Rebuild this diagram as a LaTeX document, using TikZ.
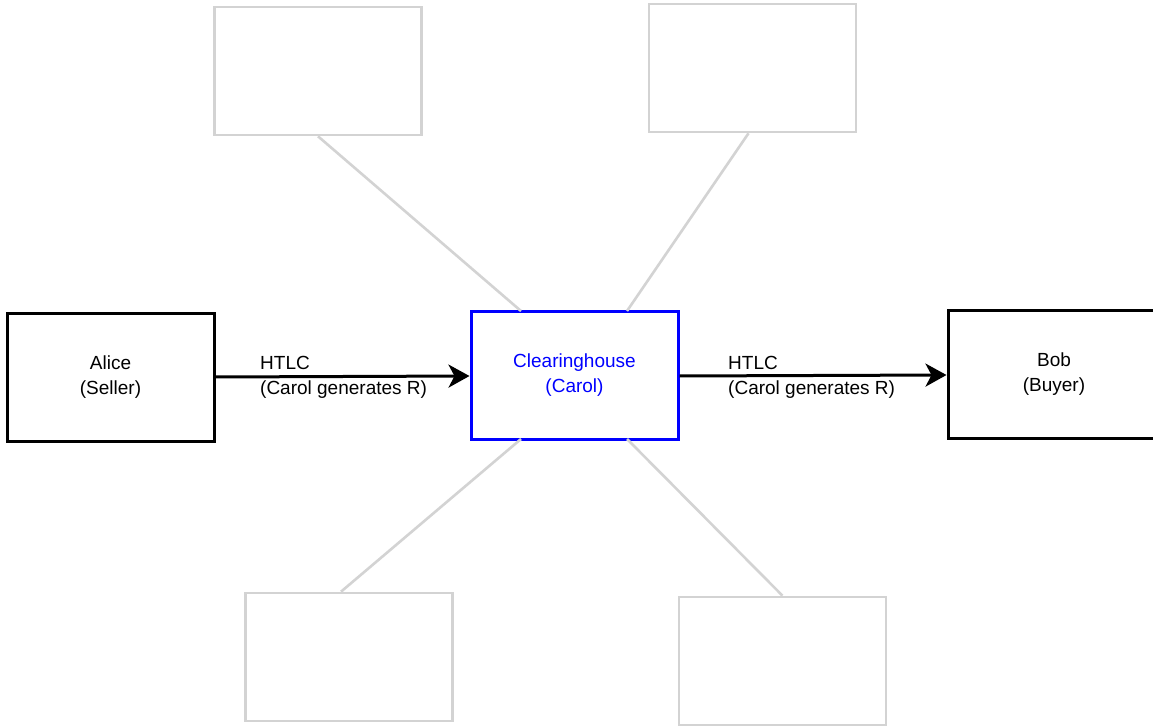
\documentclass[tikz,border=0pt]{standalone}
\usepackage{fontspec}
\setmainfont{Liberation Sans}
\usetikzlibrary{arrows.meta,calc}
\definecolor{lgray}{RGB}{211,211,211}
\definecolor{cblue}{RGB}{0,0,255}
\begin{document}
\begin{tikzpicture}[x=1pt,y=-1pt,
  box/.style={draw=black,line width=3pt,minimum width=207pt,minimum height=128pt,inner sep=0pt,align=center,font=\fontsize{19}{25}\selectfont},
  gbox/.style={draw=lgray,line width=2.6pt,minimum width=207pt,minimum height=128pt,inner sep=0pt},
  gline/.style={draw=lgray,line width=2.6pt},
  arr/.style={draw=black,line width=3pt,-{Stealth[length=21pt,width=23pt,inset=6pt]}},
  lbl/.style={font=\fontsize{19}{25}\selectfont,align=left,anchor=north west,inner sep=0pt}]
\useasboundingbox (0,0) rectangle (1153,727);
\node[gbox] (tl) at (318,71) {};
\node[gbox] (tr) at (752.5,68) {};
\node[gbox] (bl) at (349,657) {};
\node[gbox] (br) at (782.5,661) {};
\node[box] (alice) at (110.5,377) {Alice\\(Seller)};
\node[box,draw=cblue,text=cblue] (carol) at (574.5,375) {Clearinghouse\\(Carol)};
\node[box,minimum width=212pt] (bob) at (1054,374) {Bob\\(Buyer)};
\coordinate (ctl) at (521,311);
\coordinate (ctr) at (627,311);
\coordinate (cbl) at (521,439);
\coordinate (cbr) at (627,439);
\draw[gline] (tl.south) -- (ctl);
\draw[gline] ($(tr.south)+(-4,0)$) -- (ctr);
\draw[gline] (cbl) -- ($(bl.north)+(-8,0)$);
\draw[gline] (cbr) -- (br.north);
\draw[arr] (alice.east |- 0,377) -- (carol.west |- 0,376);
\draw[arr] (carol.east |- 0,376) -- (bob.west |- 0,375);
\node[lbl] (l1) at (260,356) {HTLC\\(Carol generates R)};
\node[lbl] (l2) at (728,356) {HTLC\\(Carol generates R)};
\end{tikzpicture}
\end{document}
